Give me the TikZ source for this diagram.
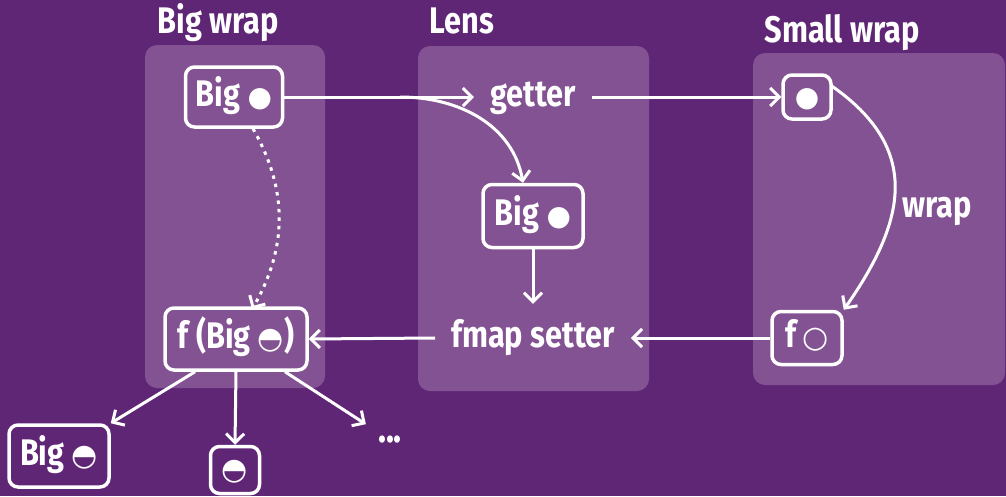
\documentclass[tikz,border=0pt]{standalone}
\usepackage{fontspec}
\setmainfont{Fira Sans}[FakeStretch=0.83]
\newfontfamily\symfont{DejaVu Sans}
\usetikzlibrary{arrows.meta}
\definecolor{bg}{RGB}{96,38,118}
\definecolor{panel}{RGB}{131,82,146}
\newcommand\symFull{{\symfont\mdseries\fontsize{28}{28}\selectfont ●}}
\newcommand\symEmpty{{\symfont\mdseries\fontsize{30}{30}\selectfont ○}}
\newcommand\symHalf{{\symfont\mdseries\fontsize{30}{30}\selectfont ◓}}
\begin{document}
\begin{tikzpicture}[x=1pt,y=-1pt,
  lbl/.style={text=white,font=\fontsize{37}{39}\selectfont\bfseries,text height=24pt,text depth=6pt},
  ttl/.style={text=white,font=\fontsize{37}{39}\selectfont\bfseries,anchor=base,inner sep=0pt},
  box/.style={lbl,draw=white,line width=3.5pt,rounded corners=9pt,inner sep=0pt},
  plain/.style={lbl,inner xsep=16pt,inner ysep=0pt},
  arr/.style={white,line width=3pt,-{Straight Barb[length=9pt,width=18pt]}},
  pnl/.style={fill=panel,rounded corners=12pt}]
\fill[bg] (0,0) rectangle (1006,496);
% panels
\fill[pnl] (145,45) rectangle (325,388);
\fill[pnl] (418,46) rectangle (649,391);
\fill[pnl] (753,53) rectangle (1005,385);
% titles
\node[ttl] (tbig) at (218,33) {Big wrap};
\node[ttl] (tlens) at (462,33) {Lens};
\node[ttl] (tsmall) at (842,42) {Small wrap};
% nodes
\node[box,minimum width=97pt,minimum height=60pt] (bigA) at (234,97) {Big \symFull};
\node[plain] (getter) at (533,97) {getter};
\node[box,minimum width=48pt,minimum height=44pt] (smallA) at (807,97) {\symFull};
\node[box,minimum width=100pt,minimum height=63pt] (bigL) at (533,216) {Big \symFull};
\node[plain] (fmap) at (533,338) {fmap setter};
\node[box,minimum width=70pt,minimum height=53pt] (fo) at (807,338) {f\,\symEmpty};
\node[box,minimum width=142pt,minimum height=62pt] (fbig) at (236,339) {f (Big \symHalf)};
\node[box,minimum width=100pt,minimum height=62pt] (bigB) at (59,456) {Big \symHalf};
\node[box,minimum width=49pt,minimum height=47pt] (half) at (235,470) {\symHalf};
\node[text=white,font=\fontsize{40}{40}\selectfont\bfseries,inner sep=12pt] (dots) at (390,440) {...};
\node[ttl] (wrapl) at (937,217) {wrap};
\coordinate (split) at (400,97);
% connectors
\draw[arr] (bigA.east) -- (getter.west);
\draw[arr] (split) to[out=0,in=100] ([xshift=-10pt]bigL.north);
\draw[arr] (getter.east) -- (smallA.west);
\draw[arr] (bigL.south) -- ([yshift=19pt]fmap.north);
\draw[arr] ([xshift=-1pt,yshift=11pt]smallA.east) to[out=-35,in=55,looseness=1.25] (fo.north east);
\draw[arr] (fo.west) -- (fmap.east);
\draw[arr] (fmap.west) -- (fbig.east);
\draw[arr,dash pattern=on 3.5pt off 5pt] ([xshift=19pt]bigA.south) to[out=-60,in=60] ([xshift=16pt,yshift=-3pt]fbig.north);
\draw[arr] ([xshift=-41pt]fbig.south) -- (bigB.north east);
\draw[arr] (fbig.south) -- (half.north);
\draw[arr] ([xshift=49pt]fbig.south) -- (dots.north west);
\end{tikzpicture}
\end{document}
